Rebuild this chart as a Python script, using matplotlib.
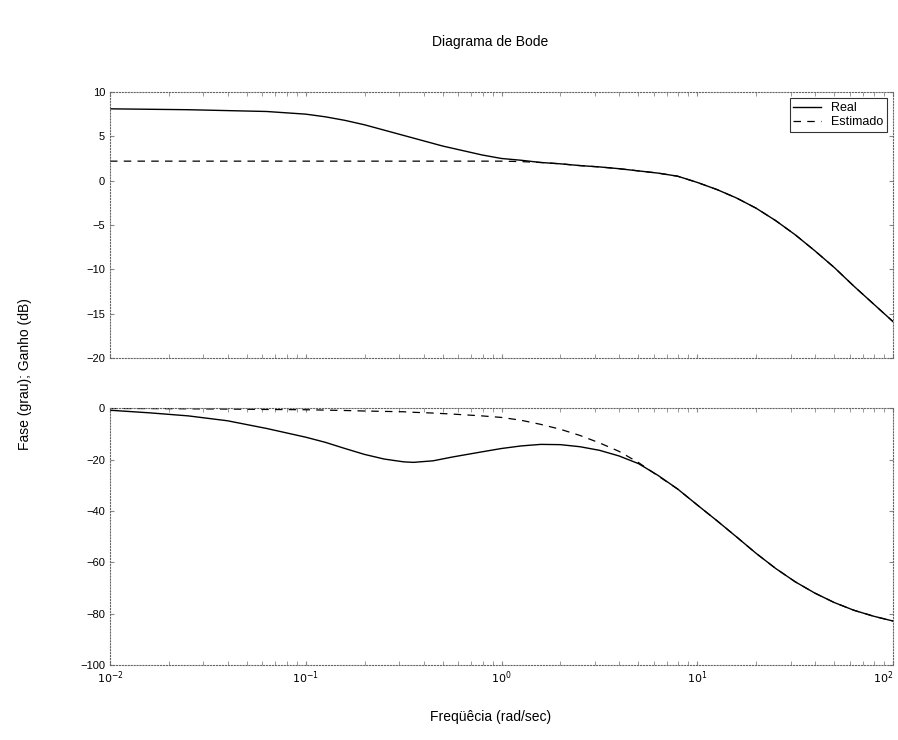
import numpy as np
import matplotlib
matplotlib.use("Agg")
import matplotlib.pyplot as plt

plt.rcParams['font.family'] = ['Liberation Sans', 'DejaVu Sans']

w_mag = [-2.0, -1.8, -1.6, -1.4, -1.2, -1.0, -0.9, -0.8, -0.7, -0.6, -0.5,
         -0.4, -0.3, -0.2, -0.1, 0.0, 0.1, 0.2, 0.3, 0.4, 0.5, 0.6, 0.7,
         0.8, 0.9, 1.0, 1.1, 1.2, 1.3, 1.4, 1.5, 1.6, 1.7, 1.8, 1.9, 2.0]
mag_real = [8.1, 8.05, 8.0, 7.9, 7.8, 7.5, 7.2, 6.8, 6.3, 5.7, 5.1,
            4.5, 3.9, 3.4, 2.9, 2.5, 2.3, 2.05, 1.9, 1.7, 1.55, 1.35, 1.1,
            0.85, 0.5, -0.2, -1.0, -1.95, -3.1, -4.5, -6.1, -7.9, -9.8,
            -11.9, -13.9, -15.9]
mag_est = [2.2, 2.2, 2.2, 2.2, 2.2, 2.2, 2.2, 2.2, 2.2, 2.2, 2.2,
           2.2, 2.2, 2.2, 2.2, 2.2, 2.15, 2.05, 1.9, 1.7, 1.55, 1.35, 1.1,
           0.85, 0.5, -0.2, -1.0, -1.95, -3.1, -4.5, -6.1, -7.9, -9.8,
           -11.9, -13.9, -15.9]

w_ph = [-2.0, -1.8, -1.6, -1.4, -1.2, -1.0, -0.9, -0.8, -0.7, -0.6, -0.5,
        -0.45, -0.35, -0.25, -0.1, 0.0, 0.1, 0.2, 0.3, 0.4, 0.5, 0.6, 0.7,
        0.8, 0.9, 1.0, 1.1, 1.2, 1.3, 1.4, 1.5, 1.6, 1.7, 1.8, 1.9, 2.0]
ph_real = [-0.8, -1.8, -3.0, -4.9, -7.9, -11.3, -13.3, -15.7, -18.0, -19.8,
           -20.9, -21.1, -20.5, -19.0, -17.0, -15.7, -14.7, -14.1, -14.2,
           -15.0, -16.4, -18.6, -21.6, -26.2, -31.5, -37.7, -43.8, -50.1,
           -56.5, -62.4, -67.6, -72.0, -75.7, -78.7, -81.0, -82.9]
ph_est = [-0.1, -0.15, -0.25, -0.35, -0.5, -0.6, -0.75, -0.9, -1.1, -1.25,
          -1.4, -1.6, -1.9, -2.3, -3.0, -3.6, -4.7, -6.3, -8.2,
          -10.6, -13.5, -16.8, -21.2, -26.4, -31.5, -37.7, -43.8, -50.1,
          -56.5, -62.4, -67.6, -72.0, -75.7, -78.7, -81.0, -82.9]

freq_ticks = [1e-2, 1e-1, 1e0, 1e1, 1e2]
freq_labels = ['$10^{-2}$', '$10^{-1}$', '$10^{0}$', '$10^{1}$', '$10^{2}$']
mag_ticks = [10, 5, 0, -5, -10, -15, -20]
ph_ticks = [0, -20, -40, -60, -80, -100]

fig = plt.figure(figsize=(8.98, 7.4), dpi=100)
ax1 = fig.add_axes([0.1225, 0.5162, 0.872, 0.3595])
ax2 = fig.add_axes([0.1225, 0.1014, 0.872, 0.347])

wm = 10 ** np.array(w_mag)
wp = 10 ** np.array(w_ph)
ax1.plot(wm, mag_real, color='black', lw=1.0, label='Real')
ax1.plot(wm, mag_est, color='black', lw=0.9, ls=(0, (6, 5)), label='Estimado')
ax2.plot(wp, ph_real, color='black', lw=1.0)
ax2.plot(wp, ph_est, color='black', lw=0.9, ls=(0, (6, 5)))

for ax in (ax1, ax2):
    ax.set_xscale('log')
    ax.set_xlim(1e-2, 1e2)
    ax.set_xticks(freq_ticks)
    ax.tick_params(direction='in', which='both', labelsize=8, length=3,
                   color='#888888', top=True, right=True)
    for s in ax.spines.values():
        s.set_linestyle(':')
        s.set_color('#666666')
        s.set_linewidth(0.8)

ax1.set_ylim(-20, 10)
ax1.set_yticks(mag_ticks)
ax1.tick_params(which='both', labelbottom=False)

ax2.set_ylim(-100, 0)
ax2.set_yticks(ph_ticks)
ax2.set_xticklabels(freq_labels)
ax2.get_xticklabels()[-1].set_horizontalalignment('right')

leg = ax1.legend(loc='upper right', fontsize=9, frameon=True, fancybox=False,
                 handlelength=2.2, borderpad=0.3, labelspacing=0.2)
leg.get_frame().set_edgecolor('black')
leg.get_frame().set_linewidth(0.8)

fig.text(0.546, 0.943, 'Diagrama de Bode', ha='center', va='center', fontsize=10)
fig.text(0.546, 0.031, 'Freqüêcia (rad/sec)', ha='center', va='center', fontsize=10)
fig.text(0.028, 0.495, 'Fase (grau); Ganho (dB)', ha='center', va='center',
         rotation=90, fontsize=10)

fig.savefig('out.png', dpi=100)
